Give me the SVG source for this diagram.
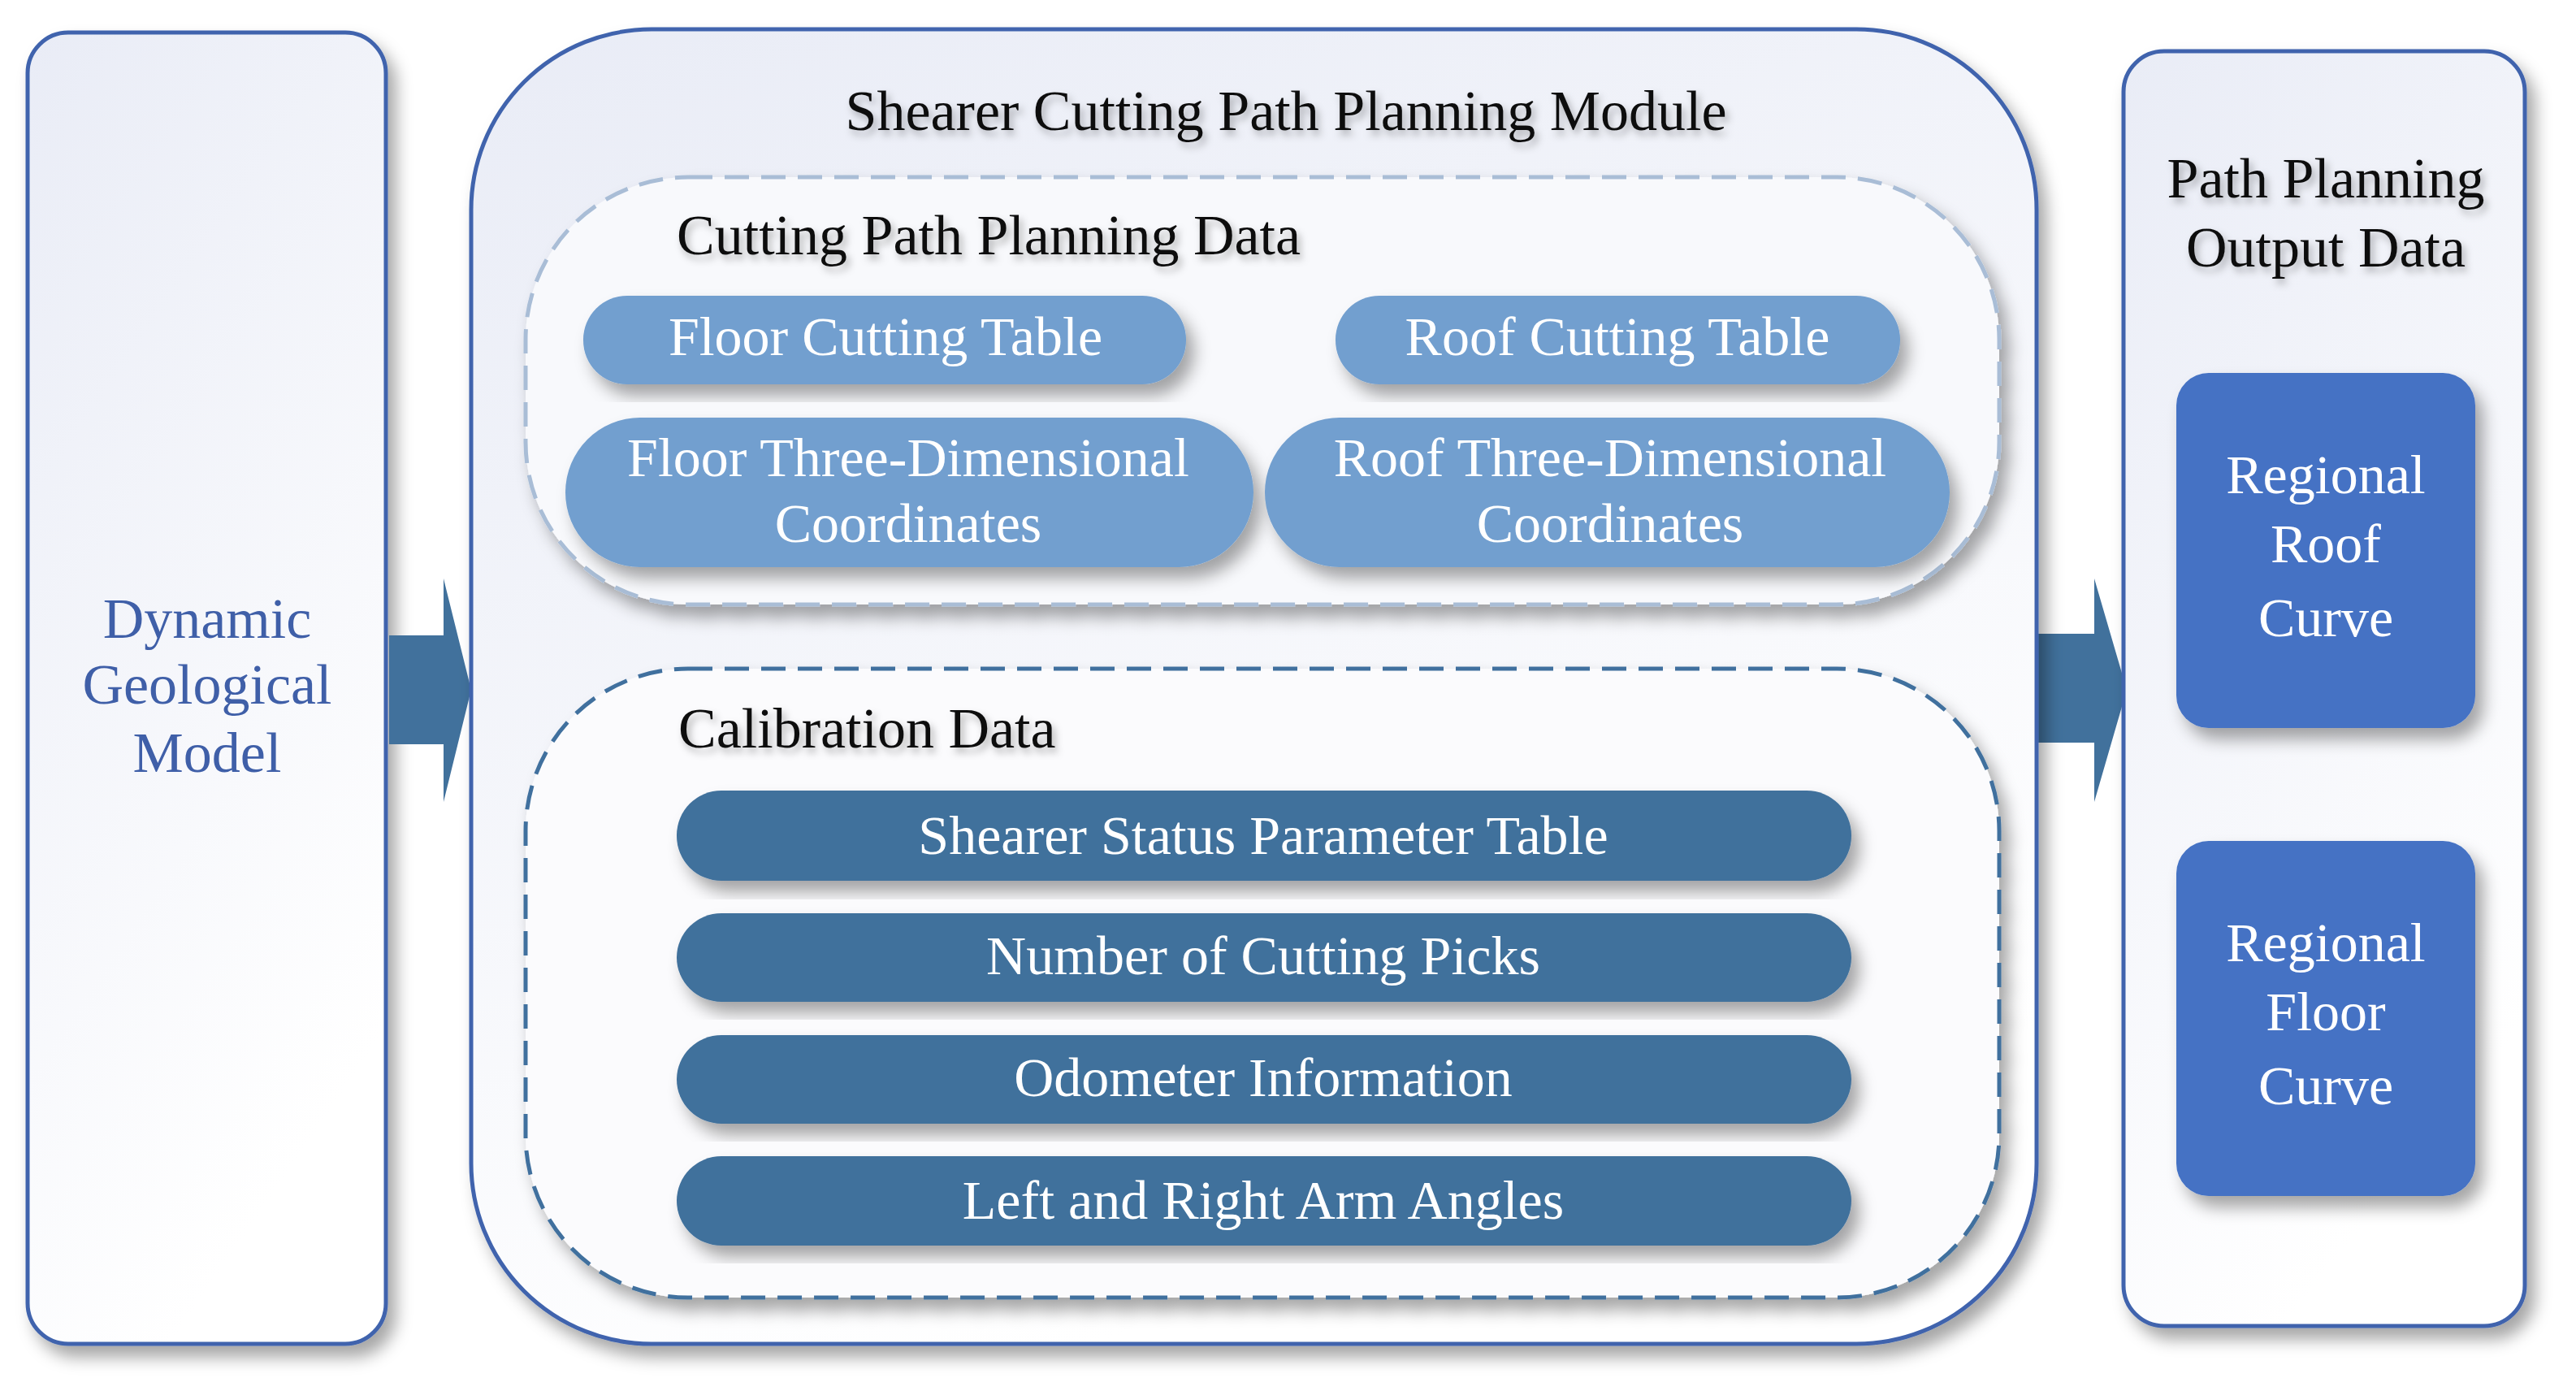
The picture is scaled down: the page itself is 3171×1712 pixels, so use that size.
<svg xmlns="http://www.w3.org/2000/svg" width="3171" height="1712" viewBox="0 0 3171 1712">
<defs>
<linearGradient id="bg" x1="0" y1="0" x2="0.4" y2="1"><stop offset="0" stop-color="#e9ecf6"/><stop offset="1" stop-color="#ffffff"/></linearGradient>
<filter id="sh" x="-10%" y="-10%" width="130%" height="130%"><feDropShadow dx="10" dy="14" stdDeviation="10" flood-color="#000" flood-opacity="0.35"/></filter>
<filter id="tsh" x="-5%" y="-20%" width="110%" height="160%"><feDropShadow dx="4" dy="6" stdDeviation="5" flood-color="#000" flood-opacity="0.3"/></filter>
<style>
text{font-family:"Liberation Serif","DejaVu Serif",serif;text-anchor:middle}
.outer{fill:url(#bg);stroke:#3f64ad;stroke-width:5}
.t{font-size:70px;fill:#111}
.w{font-size:68px;fill:#fff}
.lp{fill:#729fcf;filter:url(#sh)}
.dp{fill:#41719c;filter:url(#sh)}
.bp{fill:#4472c4;filter:url(#sh)}
.arr{fill:#41719c}
</style>
</defs>
<g id="dynamic-geological-model">
<rect class="outer" x="34" y="40" width="441" height="1614" rx="50" filter="url(#sh)"/>
<text font-size="70" fill="#3f5fa8"><tspan x="255" y="785">Dynamic</tspan><tspan x="255" y="866">Geological</tspan><tspan x="255" y="950">Model</tspan></text>
</g>
<g id="connectors">
<polygon class="arr" points="479,782 546,782 546,712 580,849 546,987 546,916 479,916"/>
<polygon class="arr" points="2507,780 2578,780 2578,712 2618,849 2578,987 2578,914 2507,914"/>
</g>
<g id="planning-module">
<rect class="outer" x="580" y="36" width="1927" height="1618" rx="222" filter="url(#sh)"/>
<text class="t" x="1583" y="160" filter="url(#tsh)">Shearer Cutting Path Planning Module</text>
</g>
<g id="cutting-path-planning-data">
<rect x="647" y="218" width="1814" height="526" rx="200" fill="#f8f9fc" stroke="#a9bdd6" stroke-width="5" stroke-dasharray="30,15" filter="url(#sh)"/>
<text class="t" x="833" y="313" style="text-anchor:start" filter="url(#tsh)">Cutting Path Planning Data</text>
</g>
<g id="floor-cutting-table"><rect class="lp" x="718" y="364" width="742" height="109" rx="54"/><text class="w" x="1090" y="437">Floor  Cutting Table</text></g>
<g id="roof-cutting-table"><rect class="lp" x="1644" y="364" width="695" height="109" rx="54"/><text class="w" x="1991" y="437">Roof  Cutting Table</text></g>
<g id="floor-3d"><rect class="lp" x="696" y="514" width="847" height="184" rx="92"/><text class="w"><tspan x="1118" y="586">Floor Three-Dimensional</tspan><tspan x="1118" y="667">Coordinates</tspan></text></g>
<g id="roof-3d"><rect class="lp" x="1557" y="514" width="843" height="184" rx="92"/><text class="w"><tspan x="1982" y="586">Roof Three-Dimensional</tspan><tspan x="1982" y="667">Coordinates</tspan></text></g>
<g id="calibration-data">
<rect x="647" y="823" width="1814" height="774" rx="200" fill="#fbfbfd" stroke="#41709e" stroke-width="5" stroke-dasharray="30,15" filter="url(#sh)"/>
<text class="t" x="835" y="920" style="text-anchor:start" filter="url(#tsh)">Calibration Data</text>
</g>
<g id="shearer-status"><rect class="dp" x="833" y="973" width="1446" height="111" rx="55"/><text class="w" x="1555" y="1051">Shearer Status Parameter Table</text></g>
<g id="cutting-picks"><rect class="dp" x="833" y="1124" width="1446" height="109" rx="55"/><text class="w" x="1555" y="1199">Number of Cutting Picks</text></g>
<g id="odometer"><rect class="dp" x="833" y="1274" width="1446" height="109" rx="55"/><text class="w" x="1555" y="1349">Odometer Information</text></g>
<g id="arm-angles"><rect class="dp" x="833" y="1423" width="1446" height="110" rx="55"/><text class="w" x="1555" y="1500">Left and Right Arm Angles</text></g>
<g id="output-data">
<rect class="outer" x="2614" y="63" width="494" height="1569" rx="50" filter="url(#sh)"/>
<text class="t" filter="url(#tsh)"><tspan x="2863" y="243">Path Planning</tspan><tspan x="2863" y="328">Output Data</tspan></text>
</g>
<g id="roof-curve"><rect class="bp" x="2679" y="459" width="368" height="437" rx="40"/><text class="w"><tspan x="2863" y="607">Regional</tspan><tspan x="2863" y="692">Roof</tspan><tspan x="2863" y="783">Curve</tspan></text></g>
<g id="floor-curve"><rect class="bp" x="2679" y="1035" width="368" height="437" rx="40"/><text class="w"><tspan x="2863" y="1183">Regional</tspan><tspan x="2863" y="1268">Floor</tspan><tspan x="2863" y="1359">Curve</tspan></text></g>
</svg>
